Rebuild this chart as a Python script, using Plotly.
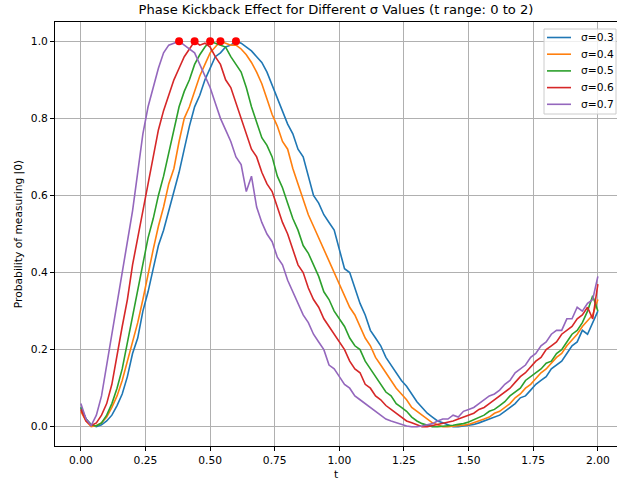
import plotly.graph_objects as go

t = [round(i * 0.02, 2) for i in range(101)]

sigma_labels = ["σ=0.3", "σ=0.4", "σ=0.5", "σ=0.6", "σ=0.7"]
colors = ["#1f77b4", "#ff7f0e", "#2ca02c", "#d62728", "#9467bd"]

p_03 = [0.05, 0.02, 0.005, 0.0, 0.005, 0.015, 0.03, 0.055, 0.085, 0.13,
        0.19, 0.23, 0.30, 0.35, 0.41, 0.47, 0.51, 0.56, 0.61, 0.66,
        0.72, 0.78, 0.83, 0.86, 0.90, 0.93, 0.96, 0.97, 0.985, 0.99,
        1.0, 0.995, 0.985, 0.975, 0.96, 0.945, 0.92, 0.885, 0.855, 0.82,
        0.785, 0.76, 0.72, 0.70, 0.65, 0.60, 0.58, 0.55, 0.53, 0.51,
        0.46, 0.41, 0.40, 0.36, 0.32, 0.29, 0.25, 0.23, 0.21, 0.18,
        0.16, 0.14, 0.12, 0.105, 0.085, 0.065, 0.05, 0.035, 0.025, 0.015,
        0.01, 0.005, 0.0, 0.0, 0.002, 0.004, 0.006, 0.01, 0.015, 0.02,
        0.025, 0.03, 0.04, 0.05, 0.06, 0.075, 0.08, 0.095, 0.11, 0.12,
        0.13, 0.15, 0.16, 0.17, 0.19, 0.21, 0.22, 0.25, 0.24, 0.27,
        0.30]

p_04 = [0.04, 0.015, 0.0, 0.003, 0.01, 0.025, 0.05, 0.08, 0.12, 0.17,
        0.22, 0.27, 0.33, 0.40, 0.46, 0.52, 0.57, 0.63, 0.67, 0.74,
        0.80, 0.83, 0.87, 0.91, 0.94, 0.97, 0.985, 1.0, 0.995, 0.99,
        0.99, 0.98, 0.965, 0.945, 0.92, 0.89, 0.85, 0.81, 0.78, 0.74,
        0.72, 0.67, 0.63, 0.59, 0.55, 0.52, 0.49, 0.46, 0.43, 0.40,
        0.37, 0.34, 0.31, 0.29, 0.26, 0.23, 0.21, 0.18, 0.16, 0.14,
        0.12, 0.10, 0.085, 0.07, 0.05, 0.04, 0.03, 0.02, 0.01, 0.005,
        0.0, 0.0, 0.001, 0.002, 0.004, 0.006, 0.01, 0.015, 0.02, 0.025,
        0.035, 0.04, 0.05, 0.06, 0.075, 0.085, 0.10, 0.11, 0.125, 0.14,
        0.15, 0.165, 0.18, 0.19, 0.21, 0.225, 0.24, 0.26, 0.275, 0.29,
        0.33]

p_05 = [0.05, 0.02, 0.005, 0.002, 0.01, 0.03, 0.06, 0.10, 0.15, 0.22,
        0.28, 0.35, 0.43, 0.49, 0.54, 0.60, 0.65, 0.71, 0.77, 0.83,
        0.87, 0.90, 0.94, 0.965, 0.985, 1.0, 0.995, 0.99, 0.985, 0.96,
        0.94, 0.92, 0.88, 0.83, 0.79, 0.75, 0.73, 0.70, 0.65, 0.62,
        0.58, 0.54, 0.51, 0.47, 0.45, 0.42, 0.39, 0.35, 0.33, 0.30,
        0.28, 0.26, 0.23, 0.21, 0.20, 0.17, 0.15, 0.13, 0.11, 0.09,
        0.08, 0.06, 0.05, 0.04, 0.025, 0.015, 0.008, 0.003, 0.0, 0.0,
        0.001, 0.002, 0.004, 0.006, 0.008, 0.012, 0.018, 0.025, 0.03, 0.04,
        0.045, 0.055, 0.065, 0.08, 0.09, 0.10, 0.12, 0.13, 0.14, 0.15,
        0.165, 0.17, 0.19, 0.20, 0.22, 0.24, 0.25, 0.27, 0.30, 0.34,
        0.30]

p_06 = [0.045, 0.015, 0.003, 0.01, 0.03, 0.06, 0.11, 0.19, 0.26, 0.33,
        0.42, 0.49, 0.56, 0.64, 0.70, 0.77, 0.82, 0.86, 0.90, 0.93,
        0.96, 0.98, 1.0, 0.99, 0.995, 0.985, 0.96, 0.94, 0.90, 0.88,
        0.84, 0.80, 0.76, 0.72, 0.70, 0.66, 0.63, 0.61, 0.57, 0.53,
        0.50, 0.46, 0.42, 0.40, 0.36, 0.33, 0.31, 0.28, 0.26, 0.24,
        0.22, 0.20, 0.17, 0.15, 0.14, 0.11, 0.10, 0.08, 0.07, 0.055,
        0.045, 0.035, 0.025, 0.015, 0.01, 0.005, 0.0, 0.0, 0.003, 0.005,
        0.008, 0.012, 0.015, 0.02, 0.025, 0.03, 0.035, 0.045, 0.05, 0.06,
        0.07, 0.08, 0.09, 0.10, 0.115, 0.13, 0.14, 0.155, 0.17, 0.18,
        0.20, 0.21, 0.22, 0.24, 0.25, 0.26, 0.28, 0.29, 0.31, 0.28,
        0.37]

p_07 = [0.06, 0.02, 0.003, 0.03, 0.08, 0.16, 0.25, 0.33, 0.40, 0.48,
        0.56, 0.66, 0.76, 0.83, 0.88, 0.93, 0.97, 0.99, 0.995, 1.0,
        0.99, 0.98, 0.97, 0.94, 0.91, 0.88, 0.84, 0.80, 0.77, 0.74,
        0.70, 0.68, 0.61, 0.65, 0.57, 0.53, 0.50, 0.48, 0.44, 0.42,
        0.38, 0.35, 0.32, 0.29, 0.27, 0.24, 0.22, 0.20, 0.16, 0.15,
        0.13, 0.11, 0.10, 0.08, 0.07, 0.06, 0.05, 0.04, 0.03, 0.02,
        0.015, 0.01, 0.005, 0.002, 0.0, 0.0, 0.002, 0.005, 0.008, 0.015,
        0.02, 0.02, 0.03, 0.025, 0.04, 0.045, 0.05, 0.06, 0.07, 0.08,
        0.085, 0.095, 0.11, 0.12, 0.14, 0.15, 0.16, 0.18, 0.19, 0.21,
        0.22, 0.24, 0.25, 0.25, 0.28, 0.28, 0.31, 0.30, 0.32, 0.33,
        0.39]

series = [p_03, p_04, p_05, p_06, p_07]

x_ticks = [0.0, 0.25, 0.5, 0.75, 1.0, 1.25, 1.5, 1.75, 2.0]
y_ticks = [0.0, 0.2, 0.4, 0.6, 0.8, 1.0]

FONT = "DejaVu Sans, Liberation Sans, sans-serif"
W, H = 617, 483
ML, MR, MT, MB = 55, 0, 22, 37
PW, PH = W - ML - MR, H - MT - MB


def px(xp):
    return (xp - ML) / PW


def py(yp):
    return (H - MB - yp) / PH


fig = go.Figure()
for lab, col, ys in zip(sigma_labels, colors, series):
    fig.add_trace(go.Scatter(x=t, y=ys, mode="lines", name=lab, showlegend=False,
                             line=dict(color=col, width=1.6)))

peak_x, peak_y = [], []
for ys in series:
    i = max(range(len(ys)), key=lambda k: ys[k])
    peak_x.append(t[i])
    peak_y.append(ys[i])
fig.add_trace(go.Scatter(x=peak_x, y=peak_y, mode="markers", showlegend=False,
                         marker=dict(color="red", size=8, line=dict(width=0))))

# legend box (matplotlib-like), drawn in paper coordinates
shapes = [dict(type="rect", xref="paper", yref="paper",
               x0=px(544), x1=px(616), y0=py(114), y1=py(29),
               line=dict(color="#cccccc", width=1),
               fillcolor="rgba(255,255,255,0.8)", layer="above")]
annotations = []
for i, (lab, col) in enumerate(zip(sigma_labels, colors)):
    yy = py(37.5 + 16.7 * i)
    shapes.append(dict(type="line", xref="paper", yref="paper",
                       x0=px(547), x1=px(571), y0=yy, y1=yy,
                       line=dict(color=col, width=1.6), layer="above"))
    annotations.append(dict(xref="paper", yref="paper", x=px(579), y=yy,
                            text=lab, showarrow=False, xanchor="left", yanchor="middle",
                            font=dict(family=FONT, size=10.7, color="black")))

axis_common = dict(showline=True, linecolor="black", linewidth=1,
                   ticks="outside", ticklen=4, tickcolor="black", tickwidth=1,
                   showgrid=True, gridcolor="#b0b0b0", gridwidth=0.8,
                   zeroline=False, automargin=False,
                   tickfont=dict(family=FONT, size=10.7, color="black"))

fig.update_layout(
    width=W, height=H,
    margin=dict(l=ML, r=MR, t=MT, b=MB, pad=0),
    paper_bgcolor="white", plot_bgcolor="white",
    font=dict(family=FONT, size=10.7, color="black"),
    title=dict(text="Phase Kickback Effect for Different σ Values (t range: 0 to 2)",
               x=0.5, xref="paper", xanchor="center", y=1, yref="container",
               yanchor="top", pad=dict(t=5),
               font=dict(family=FONT, size=13.1, color="black")),
    xaxis=dict(range=[-0.1, 2.074], tickvals=x_ticks, mirror=True,
               ticktext=[f"{v:.2f}" for v in x_ticks],
               title=dict(text="t", standoff=4, font=dict(family=FONT, size=10.7)),
               **axis_common),
    yaxis=dict(range=[-0.05, 1.05], tickvals=y_ticks, mirror=False,
               ticktext=[f"{v:.1f}" for v in y_ticks],
               title=dict(text="Probability of measuring |0⟩", standoff=6,
                          font=dict(family=FONT, size=10.7)),
               **axis_common),
    shapes=shapes,
    annotations=annotations,
    showlegend=False,
)

fig.write_html("out.html", config={"displayModeBar": False},
               post_script="document.body.style.margin='0';")
